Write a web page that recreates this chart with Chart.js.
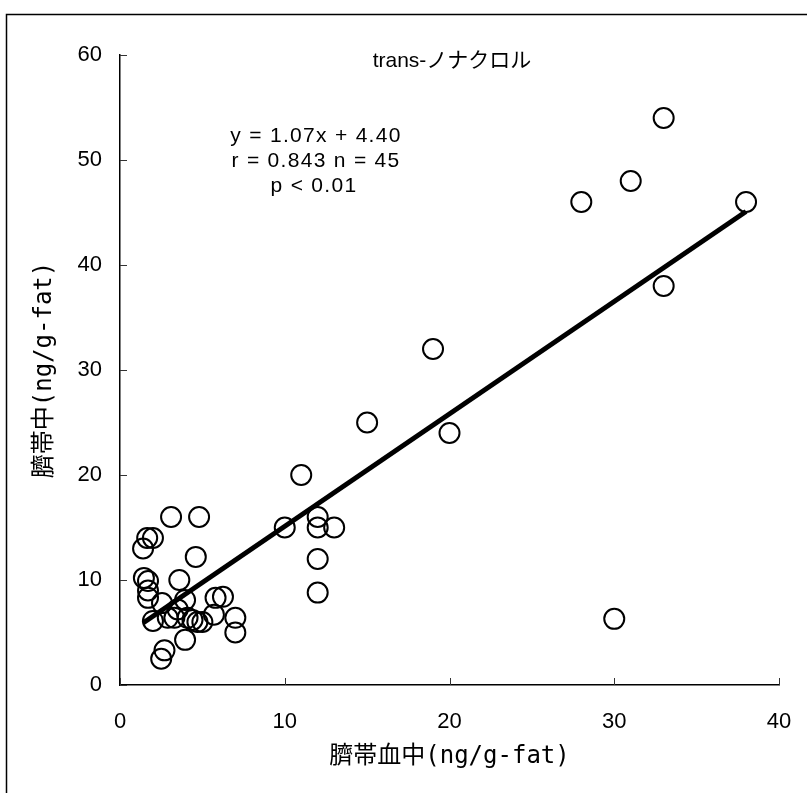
<!DOCTYPE html>
<html>
<head>
<meta charset="utf-8">
<script src="https://cdn.jsdelivr.net/npm/chart.js@4.4.1/dist/chart.umd.min.js"></script>
<style>
  body { margin: 0; background: #fff; }
  #wrap { position: relative; width: 807px; height: 793px; }
</style>
</head>
<body>
<div id="wrap"><canvas id="scatterChart"></canvas></div>
<script>
// values
const cordBlood = [33, 31, 28, 38, 33, 19, 15, 20, 11, 10, 12, 12, 13, 12, 12, 30,
    3.1, 4.8, 2.0, 1.65, 1.4, 4.6, 1.45, 1.7, 3.6, 1.7, 1.7, 2.55, 3.95, 5.8, 6.25,
    2.0, 2.9, 3.3, 4.1, 4.4, 4.7, 5.0, 5.7, 7.0, 7.0, 3.95, 2.7, 2.5, 3.5];
const cordTissue = [54, 48, 46, 46, 38, 32, 25, 24, 20, 15, 16, 15, 15, 12, 8.8, 6.3,
    16, 16, 14, 14, 13, 12.2, 10.2, 9.9, 10, 9.0, 8.3, 7.8, 8.1, 8.3, 8.4,
    6.1, 6.4, 6.4, 6.4, 6.2, 6.0, 6.0, 6.7, 6.4, 5.0, 4.3, 3.3, 2.5, 7.2];
const fitX = [1.4, 38];
const fitY = [5.9, 45.1];
const xTicks = [0, 10, 20, 30, 40];
const yTicks = [0, 10, 20, 30, 40, 50, 60];

const chartTitle = 'trans-ノナクロル';
const statLines = ['y = 1.07x + 4.40', 'r = 0.843 n = 45', 'p < 0.01'];
const xTitle = '臍帯血中(ng/g-fat)';
const yTitle = '臍帯中(ng/g-fat)';

const SANS = '"Liberation Sans", "Noto Sans CJK JP", sans-serif';
const MONO = '"DejaVu Sans Mono", "Noto Sans CJK JP", sans-serif';

const points = cordBlood.map((x, i) => ({ x: x, y: cordTissue[i] }));
const fitLine = fitX.map((x, i) => ({ x: x, y: fitY[i] }));

// frame, inward tick marks and the text inside the plot
const extras = {
    id: 'extras',
    afterDraw(chart) {
        const ctx = chart.ctx;
        const xs = chart.scales.x, ys = chart.scales.y;
        const area = chart.chartArea;
        ctx.save();
        ctx.strokeStyle = '#000';
        ctx.lineWidth = 1.5;
        ctx.strokeRect(6.5, 14.5, 1000, 1000);

        ctx.lineWidth = 1;
        ctx.strokeStyle = '#333';
        xTicks.forEach(v => {
            const px = Math.round(xs.getPixelForValue(v)) + 0.5;
            ctx.beginPath();
            ctx.moveTo(px, area.bottom);
            ctx.lineTo(px, area.bottom - 7);
            ctx.stroke();
        });
        yTicks.forEach(v => {
            const py = Math.round(ys.getPixelForValue(v)) + 0.5;
            ctx.beginPath();
            ctx.moveTo(area.left, py);
            ctx.lineTo(area.left + 7, py);
            ctx.stroke();
        });

        ctx.fillStyle = '#000';
        ctx.textAlign = 'center';
        ctx.textBaseline = 'middle';
        ctx.font = '21px ' + SANS;
        ctx.fillText(chartTitle, 452, 61);
        ctx.letterSpacing = '1.3px';
        ctx.fillText(statLines[0], 316, 136);
        ctx.fillText(statLines[1], 316, 161);
        ctx.fillText(statLines[2], 314, 186);
        ctx.restore();
    }
};

new Chart(document.getElementById('scatterChart'), {
    type: 'scatter',
    data: {
        datasets: [
            {
                label: 'fit',
                type: 'line',
                data: fitLine,
                borderColor: '#000',
                borderWidth: 5,
                pointRadius: 0,
                fill: false,
                order: 0
            },
            {
                label: 'samples',
                data: points,
                pointStyle: 'circle',
                pointRadius: 10,
                pointBorderWidth: 2,
                pointBorderColor: '#000',
                pointBackgroundColor: 'rgba(0,0,0,0)',
                order: 1
            }
        ]
    },
    options: {
        responsive: true,
        maintainAspectRatio: false,
        animation: false,
        layout: { padding: { left: 0, top: 55, right: 28, bottom: 0 } },
        plugins: {
            legend: { display: false },
            tooltip: { enabled: false }
        },
        scales: {
            x: {
                type: 'linear',
                min: 0, max: 40,
                afterFit: s => { s.height = 108; s.paddingLeft = 0; s.paddingRight = 0; },
                afterBuildTicks: s => { s.ticks = xTicks.map(v => ({ value: v })); },
                grid: { drawOnChartArea: false, drawTicks: false },
                border: { color: '#000', width: 1.5 },
                ticks: { color: '#000', padding: 24, font: { family: SANS, size: 22 } },
                title: {
                    display: true, text: xTitle, color: '#000',
                    font: { family: MONO, size: 24 },
                    padding: { top: 0, bottom: 22 }
                }
            },
            y: {
                type: 'linear',
                min: 0, max: 60,
                afterFit: s => { s.width = 120; s.paddingTop = 0; s.paddingBottom = 0; },
                afterBuildTicks: s => { s.ticks = yTicks.map(v => ({ value: v })); },
                grid: { drawOnChartArea: false, drawTicks: false },
                border: { color: '#000', width: 1.5 },
                ticks: { color: '#000', padding: 18, font: { family: SANS, size: 22 } },
                title: {
                    display: true, text: yTitle, color: '#000',
                    font: { family: MONO, size: 24 },
                    padding: { top: 30, bottom: 0 }
                }
            }
        }
    },
    plugins: [extras]
});
</script>
</body>
</html>
